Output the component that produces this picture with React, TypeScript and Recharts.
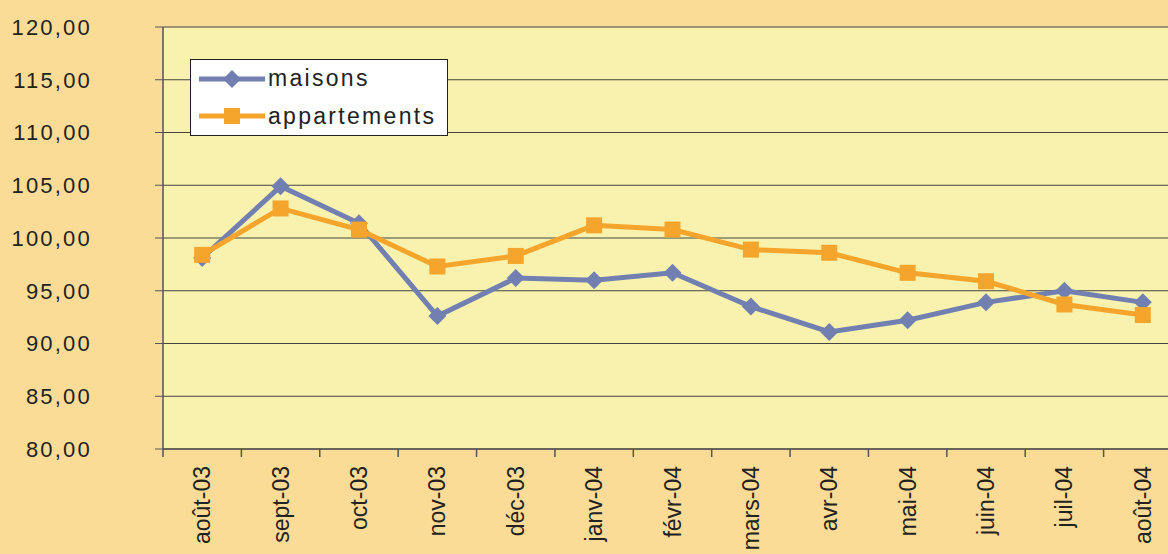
import { CartesianGrid, Line, LineChart, XAxis, YAxis } from "recharts";

const months = [
  "août-03",
  "sept-03",
  "oct-03",
  "nov-03",
  "déc-03",
  "janv-04",
  "févr-04",
  "mars-04",
  "avr-04",
  "mai-04",
  "juin-04",
  "juil-04",
  "août-04",
];
const maisons = [98.1, 104.9, 101.4, 92.6, 96.2, 96.0, 96.7, 93.5, 91.1, 92.2, 93.9, 95.0, 93.9];
const appartements = [98.4, 102.8, 100.8, 97.3, 98.3, 101.2, 100.8, 98.9, 98.6, 96.7, 95.9, 93.7, 92.7];
const yTicks = [80, 85, 90, 95, 100, 105, 110, 115, 120];

const data = months.map((m, i) => ({
  month: m,
  maisons: maisons[i],
  appartements: appartements[i],
}));

const BLUE = "#7180B0";
const ORANGE = "#F5A52B";
const FONT = "'Liberation Sans', Arial, sans-serif";
const STEP = 78.4;

const Diamond = ({ cx, cy, half = 9 }: any) =>
  cx == null ? null : (
    <polygon
      points={`${cx},${cy - half} ${cx + half},${cy} ${cx},${cy + half} ${cx - half},${cy}`}
      fill={BLUE}
    />
  );

const Square = ({ cx, cy, half = 8 }: any) =>
  cx == null ? null : (
    <rect x={cx - half} y={cy - half} width={half * 2} height={half * 2} fill={ORANGE} />
  );

const MonthTick = ({ x, y, payload }: any) => (
  <g>
    <line x1={x - STEP / 2} y1={y} x2={x - STEP / 2} y2={y + 8} stroke="#555" strokeWidth={1.5} />
    <text
      x={x}
      y={y + 17}
      dy="0.35em"
      textAnchor="end"
      transform={`rotate(-90, ${x}, ${y + 17})`}
      fontSize={23}
      fill="#222"
      fontFamily={FONT}
    >
      {payload.value}
    </text>
  </g>
);

const LegendBox = () => (
  <div
    style={{
      position: "absolute",
      left: 190,
      top: 59,
      border: "1px solid #222",
      background: "#fff",
      width: 258,
      height: 77,
      boxSizing: "border-box",
      fontFamily: FONT,
      fontSize: 23,
      letterSpacing: 2.3,
      color: "#222",
    }}
  >
    {[
      { name: "maisons", color: BLUE, kind: "d" },
      { name: "appartements", color: ORANGE, kind: "s" },
    ].map((e) => (
      <div key={e.name} style={{ display: "flex", alignItems: "center", height: 37.5 }}>
        <svg width={66} height={22} style={{ marginLeft: 8, marginRight: 3 }}>
          <line x1={0} y1={11} x2={66} y2={11} stroke={e.color} strokeWidth={5} />
          {e.kind === "d" ? <Diamond cx={33} cy={11} half={9} /> : <Square cx={33} cy={11} half={8} />}
        </svg>
        <span>{e.name}</span>
      </div>
    ))}
  </div>
);

export default function App() {
  return (
    <div
      style={{
        position: "absolute",
        left: 0,
        top: 0,
        width: 1168,
        height: 554,
        overflow: "hidden",
        background: "#FBDC96",
      }}
    >
      <LineChart
        width={1182}
        height={554}
        data={data}
        margin={{ top: 27, right: 0, left: 0, bottom: 0 }}
      >
        <CartesianGrid vertical={false} stroke="#444" strokeWidth={1.2} fill="#F8F2AE" fillOpacity={1} />
        <XAxis
          dataKey="month"
          interval={0}
          height={105}
          padding={{ left: STEP / 2, right: STEP / 2 }}
          tickLine={false}
          tickSize={0}
          tickMargin={0}
          axisLine={{ stroke: "#555", strokeWidth: 1.5 }}
          tick={<MonthTick />}
        />
        <YAxis
          width={163}
          domain={[80, 120]}
          ticks={yTicks}
          interval={0}
          tickSize={8}
          tickMargin={63}
          axisLine={{ stroke: "#555", strokeWidth: 1.5 }}
          tickLine={{ stroke: "#555" }}
          tickFormatter={(v: number) => v.toFixed(2).replace(".", ",")}
          tick={{ fontSize: 22, fill: "#222", fontFamily: FONT, letterSpacing: 2.2 }}
        />
        <Line
          dataKey="maisons"
          stroke={BLUE}
          strokeWidth={5}
          dot={<Diamond />}
          activeDot={false}
          isAnimationActive={false}
        />
        <Line
          dataKey="appartements"
          stroke={ORANGE}
          strokeWidth={5}
          dot={<Square />}
          activeDot={false}
          isAnimationActive={false}
        />
      </LineChart>
      <LegendBox />
    </div>
  );
}
